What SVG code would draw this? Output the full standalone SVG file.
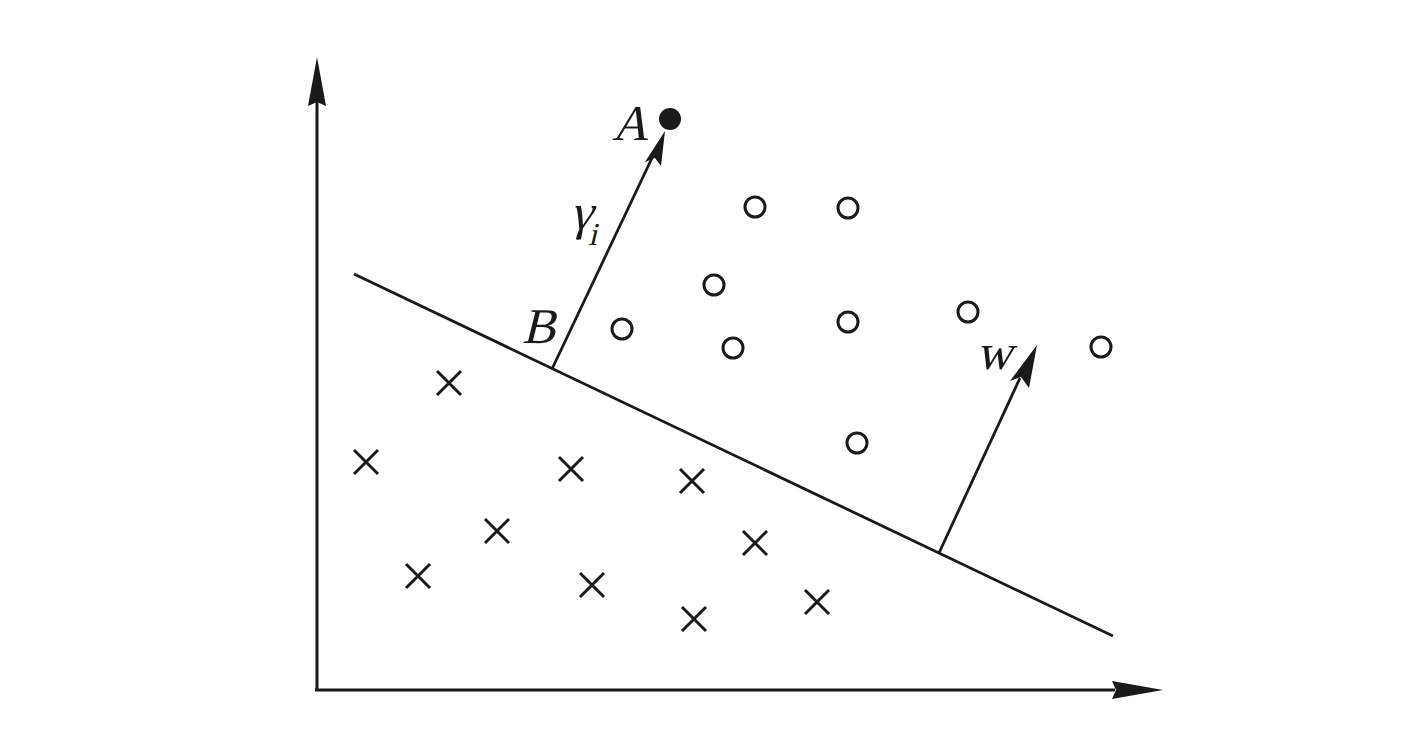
<svg xmlns="http://www.w3.org/2000/svg" width="1427" height="735" viewBox="0 0 1427 735">
<style>
.ax{stroke:#1a1a1a;stroke-width:3;fill:none}
.ln{stroke:#1a1a1a;stroke-width:2.8;fill:none}
.head{fill:#1a1a1a}
.o{fill:none;stroke:#1a1a1a;stroke-width:3}
.x{stroke:#1a1a1a;stroke-width:3;fill:none}
text{font-family:'Liberation Serif','Times New Roman',serif;font-style:normal;font-size:50px;fill:#1a1a1a}
</style>
<rect width="1427" height="735" fill="#ffffff"/>
<g id="connectors">
  <g id="y-axis">
    <line class="ax" x1="317" y1="690" x2="317" y2="100"/>
    <polygon class="head" points="317,57 326,106 317,102 308,106"/>
  </g>
  <g id="x-axis">
    <line class="ax" x1="315" y1="690" x2="1115" y2="690"/>
    <polygon class="head" points="1163,690 1112,699 1116,690 1112,681"/>
  </g>
  <g id="hyperplane">
    <line class="ln" x1="354" y1="274" x2="1113" y2="636"/>
  </g>
  <g id="gamma-arrow">
    <line class="ln" x1="552" y1="369" x2="652" y2="158"/>
    <polygon class="head" points="665,131 661,166 655,158 645,162"/>
  </g>
  <g id="w-arrow">
    <line class="ln" x1="939" y1="553" x2="1020" y2="378"/>
    <polygon class="head" points="1037,345 1029,388 1021,377 1010,381"/>
  </g>
</g>
<g id="A">
  <circle cx="670" cy="119" r="11" fill="#1a1a1a"/>
  <text transform="translate(612,140) skewX(-14)">A</text>
</g>
<g id="gamma-label">
  <text transform="translate(570,229) skewX(-14)">γ<tspan font-size="32" dy="16">i</tspan></text>
</g>
<g id="B">
  <text transform="translate(522,343) skewX(-14)">B</text>
</g>
<g id="w-label">
  <text transform="translate(976,369) skewX(-14)">w</text>
</g>
<g id="positives">
  <circle class="o" cx="755" cy="207" r="10"/>
  <circle class="o" cx="848" cy="208" r="10"/>
  <circle class="o" cx="714" cy="285" r="10"/>
  <circle class="o" cx="622" cy="329" r="10"/>
  <circle class="o" cx="733" cy="348" r="10"/>
  <circle class="o" cx="848" cy="322" r="10"/>
  <circle class="o" cx="968" cy="312" r="10"/>
  <circle class="o" cx="1101" cy="347" r="10"/>
  <circle class="o" cx="857" cy="443" r="10"/>
</g>
<g id="negatives">
  <path class="x" d="M437,371l24,24M461,371l-24,24"/>
  <path class="x" d="M354,450l24,24M378,450l-24,24"/>
  <path class="x" d="M559,457l24,24M583,457l-24,24"/>
  <path class="x" d="M680,469l24,24M704,469l-24,24"/>
  <path class="x" d="M485,519l24,24M509,519l-24,24"/>
  <path class="x" d="M743,531l24,24M767,531l-24,24"/>
  <path class="x" d="M406,564l24,24M430,564l-24,24"/>
  <path class="x" d="M580,573l24,24M604,573l-24,24"/>
  <path class="x" d="M682,607l24,24M706,607l-24,24"/>
  <path class="x" d="M805,590l24,24M829,590l-24,24"/>
</g>
</svg>
